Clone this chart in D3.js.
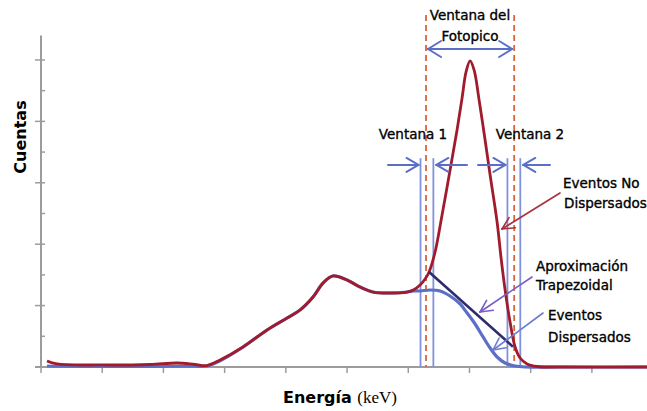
<!DOCTYPE html>
<html><head><meta charset="utf-8">
<script src="https://cdn.jsdelivr.net/npm/d3@7"></script>
<style>
html,body{margin:0;padding:0;background:#fff;}
svg text{font-family:"DejaVu Sans",sans-serif;}
</style></head>
<body>
<script>
// ---- data (energy in tick units, counts in tick units) ----
const xTicks = [0,1,2,3,4,5,6,7,8,9];
const yMajorTicks = [0,1,2,3,4,5];
const yMinorTicks = [0.5,1.5,2.5,3.5,4.5];

const totalEnergy = [0.098,0.261,0.964,1.781,2.222,2.516,2.712,2.925,3.301,3.693,4.020,4.232,4.444,4.608,4.771,5.000,5.212,5.425,5.703,5.980,6.082,6.193,6.275,6.340,6.438,6.552,6.683,6.797,6.879,6.944,7.010,7.075,7.157,7.255,7.337,7.451,7.516,7.582,7.663,7.745,7.827,7.941,8.105,8.480,9.900];
const totalCounts = [0.098,0.049,0.033,0.041,0.065,0.041,0.024,0.114,0.326,0.603,0.798,0.928,1.140,1.368,1.482,1.417,1.303,1.221,1.205,1.221,1.254,1.336,1.433,1.547,1.873,2.476,3.208,3.860,4.381,4.805,4.984,4.837,4.349,3.697,3.127,2.362,1.775,1.254,0.733,0.326,0.147,0.049,0.008,0.000,0.000];

const scatEnergy = [0.098,0.261,0.964,1.781,2.222,2.516,2.712,2.925,3.301,3.693,4.020,4.232,4.444,4.608,4.771,5.000,5.212,5.425,5.703,5.980,6.082,6.193,6.356,6.520,6.683,6.846,6.961,7.092,7.222,7.337,7.451,7.582,7.745,7.908,8.480,9.900];
const scatCounts = [0.016,0.012,0.008,0.010,0.012,0.012,0.016,0.100,0.326,0.603,0.798,0.928,1.140,1.368,1.482,1.417,1.303,1.221,1.205,1.221,1.238,1.238,1.254,1.238,1.156,1.026,0.879,0.700,0.489,0.309,0.163,0.065,0.016,0.000,0.000,0.000];

const trapEnergy = [6.34, 7.71];
const trapCounts = [1.547, 0.33];

const photopeakWindow = [6.29, 7.73];   // red dashed
const window1 = [6.20, 6.41];           // blue lines
const window2 = [7.62, 7.83];

// ---- layout ----
const W = 647, H = 411;
const svg = d3.select("body").append("svg").attr("width", W).attr("height", H);
const x = d3.scaleLinear().domain([0, 9.9]).range([41, 647]);
const y = d3.scaleLinear().domain([0, 5.4]).range([367, 35.4]);

const axisCol = "#9c9c9c";
const blueC = "#5b6fc7", redC = "#a01c2c", navyC = "#2f2c6c", dashC = "#d9643e", vBlue = "#7f92dc";

// axes
const gA = svg.append("g");
gA.append("line").attr("x1", x(0)).attr("x2", x(0)).attr("y1", y(5.4)).attr("y2", y(0)+1).attr("stroke", axisCol).attr("stroke-width", 2);
gA.append("line").attr("x1", x(0)-6).attr("x2", x(9.9)).attr("y1", y(0)).attr("y2", y(0)).attr("stroke", axisCol).attr("stroke-width", 2);
gA.selectAll(".ymaj").data(yMajorTicks).join("line")
  .attr("x1", x(0)-6).attr("x2", x(0)+4).attr("y1", d=>y(d)).attr("y2", d=>y(d))
  .attr("stroke", axisCol).attr("stroke-width", 1.5);
gA.selectAll(".ymin").data(yMinorTicks).join("line")
  .attr("x1", x(0)).attr("x2", x(0)+4).attr("y1", d=>y(d)).attr("y2", d=>y(d))
  .attr("stroke", axisCol).attr("stroke-width", 1.5);
gA.selectAll(".xt").data(xTicks).join("line")
  .attr("x1", d=>x(d)).attr("x2", d=>x(d)).attr("y1", y(0)).attr("y2", y(0)+6)
  .attr("stroke", axisCol).attr("stroke-width", 1.5);

// vertical window lines
const yTopBlue = 3.40;
svg.selectAll(".vb").data(window1.concat(window2)).join("line")
  .attr("x1", d=>x(d)).attr("x2", d=>x(d)).attr("y1", y(yTopBlue)).attr("y2", y(0))
  .attr("stroke", vBlue).attr("stroke-width", 1.8);
svg.selectAll(".vr").data(photopeakWindow).join("line")
  .attr("x1", d=>x(d)).attr("x2", d=>x(d)).attr("y1", 15).attr("y2", y(0))
  .attr("stroke", dashC).attr("stroke-width", 1.8).attr("stroke-dasharray", "6,4");

// curves
const line = d3.line().x(d=>x(d[0])).y(d=>y(d[1])).curve(d3.curveCatmullRom.alpha(0.5));
const scat = scatEnergy.map((e,i)=>[e, scatCounts[i]]);
const tot = totalEnergy.map((e,i)=>[e, totalCounts[i]]);
svg.append("path").attr("d", line(scat)).attr("fill","none").attr("stroke", blueC).attr("stroke-width", 3.2);
svg.append("path").attr("d", line(tot)).attr("fill","none").attr("stroke", redC).attr("stroke-width", 2.8).attr("stroke-linejoin","round");
svg.append("line").attr("x1", x(trapEnergy[0])).attr("y1", y(trapCounts[0])).attr("x2", x(trapEnergy[1])).attr("y2", y(trapCounts[1]))
  .attr("stroke", navyC).attr("stroke-width", 2.6);

// arrows helper (open chevron head at (x2,y2))
function arrow(x1,y1,x2,y2,col,sw,head){
  const g = svg.append("g").attr("stroke", col).attr("stroke-width", sw).attr("fill","none").attr("stroke-linecap","round");
  g.append("line").attr("x1",x1).attr("y1",y1).attr("x2",x2).attr("y2",y2);
  const a = Math.atan2(y2-y1, x2-x1), L = head[0], s = head[1];
  [s,-s].forEach(o=>{
    g.append("line").attr("x1",x2).attr("y1",y2)
     .attr("x2", x2 - L*Math.cos(a) - o*Math.sin(a))
     .attr("y2", y2 - L*Math.sin(a) + o*Math.cos(a));
  });
}
const ya = y(3.29);
arrow(388, ya, x(window1[0])-2, ya, blueC, 2, [12,7]);
arrow(467, ya, x(window1[1])+3, ya, blueC, 2, [12,7]);
arrow(478, ya, x(window2[0])-2, ya, blueC, 2, [12,7]);
arrow(550, ya, x(window2[1])+3, ya, blueC, 2, [12,7]);
// photopeak double arrow
const yp = 49;
arrow(470, yp, x(photopeakWindow[0])+2, yp, blueC, 2, [13,8]);
arrow(470, yp, x(photopeakWindow[1])-2, yp, blueC, 2, [13,8]);

// annotation pointers
arrow(560, 193, 502, 229, "#a8303f", 1.6, [12,6]);
arrow(532, 277, 480, 312, "#7b5ec2", 1.6, [12,6]);
arrow(543, 313, 493, 350, "#6a7dd0", 1.6, [12,6]);

// texts
function txt(t, xx, yy, anchor, size, weight){
  return svg.append("text").attr("x", xx).attr("y", yy).attr("text-anchor", anchor||"start")
    .attr("font-size", size||13.5).attr("font-weight", weight||"normal").attr("fill","#000")
    .attr("stroke","#000").attr("stroke-width",0.35).text(t);
}
txt("Ventana del", 470, 20, "middle");
txt("Fotopico", 470, 41, "middle");
txt("Ventana 1", 413, 139, "middle");
txt("Ventana 2", 530, 139, "middle");
txt("Eventos No", 563, 188);
txt("Dispersados", 564, 208);
txt("Aproximación", 536, 271);
txt("Trapezoidal", 536, 290);
txt("Eventos", 548, 320);
txt("Dispersados", 548, 342);

svg.append("text").attr("transform","translate(26,137) rotate(-90)").attr("text-anchor","middle")
  .attr("font-size", 16).attr("font-weight","bold").attr("fill","#000").text("Cuentas");
const xl = svg.append("text").attr("x", 340).attr("y", 403).attr("text-anchor","middle").attr("fill","#000");
xl.append("tspan").attr("font-size",16).attr("font-weight","bold").text("Energía ");
xl.append("tspan").attr("font-size",17).attr("style","font-family:'Liberation Serif',serif").text("(keV)");
</script>
</body></html>
